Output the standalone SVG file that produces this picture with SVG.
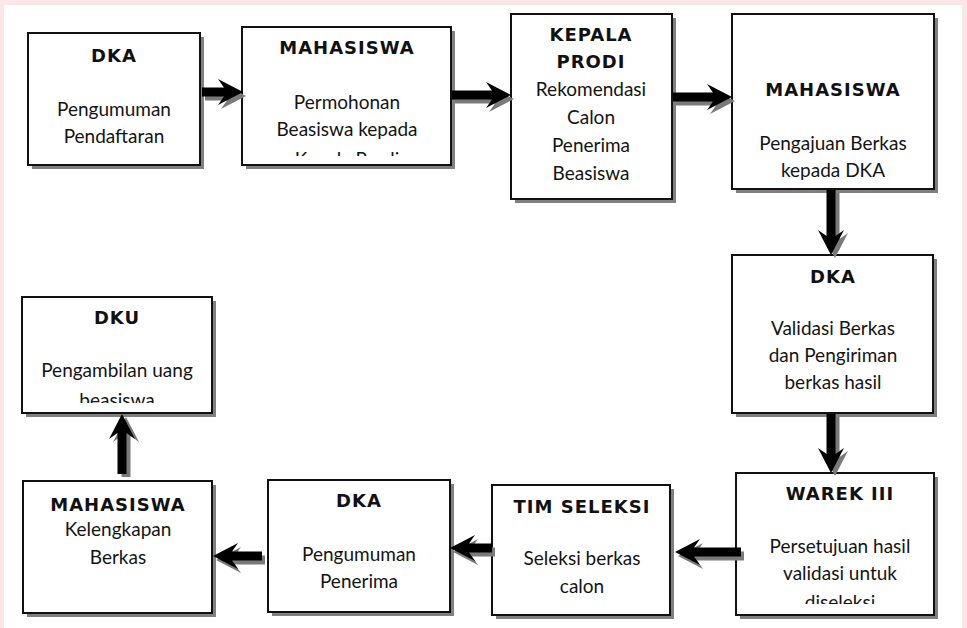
<svg xmlns="http://www.w3.org/2000/svg" width="967" height="628" viewBox="0 0 967 628">
<style>
.sh{fill:#808080}
.bx{fill:#fff;stroke:#111;stroke-width:2}
.hd{font-family:"DejaVu Sans",sans-serif;font-weight:bold;font-size:18px;letter-spacing:1px;fill:#111;text-anchor:middle}
.tx{font-family:Lato,"Liberation Sans",sans-serif;font-size:19px;fill:#141414;text-anchor:middle}
.ar{fill:#000}
.as{fill:#7a7a7a}
</style>
<defs>
<clipPath id="c2"><rect x="242" y="27" width="209" height="129"/></clipPath>
<clipPath id="c6"><rect x="736" y="473" width="198" height="131"/></clipPath>
<clipPath id="c10"><rect x="22" y="297" width="190" height="106"/></clipPath>
</defs>
<rect x="0" y="0" width="967" height="628" fill="#fce6e8"/>
<rect x="4" y="5" width="958" height="623" fill="#fff"/>

<g id="n1">
<rect class="sh" x="32" y="37" width="172" height="132"/>
<rect class="bx" x="28" y="33" width="172" height="132"/>
<text class="hd" x="114" y="62">DKA</text>
<text class="tx" x="114" y="116">Pengumuman</text>
<text class="tx" x="114" y="143">Pendaftaran</text>
</g>
<g id="n2">
<rect class="sh" x="246" y="31" width="209" height="138"/>
<rect class="bx" x="242" y="27" width="209" height="138"/>
<text class="hd" x="347" y="54">MAHASISWA</text>
<g clip-path="url(#c2)">
<text class="tx" x="347" y="109">Permohonan</text>
<text class="tx" x="347" y="136">Beasiswa kepada</text>
<text class="tx" x="347" y="166">Kepala Prodi</text>
</g>
</g>
<g id="n3">
<rect class="sh" x="515" y="18" width="161" height="185"/>
<rect class="bx" x="511" y="14" width="161" height="185"/>
<text class="hd" x="591" y="41">KEPALA</text>
<text class="hd" x="591" y="68">PRODI</text>
<text class="tx" x="591" y="96">Rekomendasi</text>
<text class="tx" x="591" y="124">Calon</text>
<text class="tx" x="591" y="152">Penerima</text>
<text class="tx" x="591" y="180">Beasiswa</text>
</g>
<g id="n4">
<rect class="sh" x="736" y="18" width="202" height="175"/>
<rect class="bx" x="732" y="14" width="202" height="175"/>
<text class="hd" x="833" y="96">MAHASISWA</text>
<text class="tx" x="833" y="150">Pengajuan Berkas</text>
<text class="tx" x="833" y="177">kepada DKA</text>
</g>
<g id="n5">
<rect class="sh" x="736" y="259" width="201" height="158"/>
<rect class="bx" x="732" y="255" width="201" height="158"/>
<text class="hd" x="833" y="283">DKA</text>
<text class="tx" x="833" y="335">Validasi Berkas</text>
<text class="tx" x="833" y="362">dan Pengiriman</text>
<text class="tx" x="833" y="389">berkas hasil</text>
</g>
<g id="n6">
<rect class="sh" x="740" y="477" width="198" height="142"/>
<rect class="bx" x="736" y="473" width="198" height="142"/>
<text class="hd" x="840" y="500">WAREK III</text>
<g clip-path="url(#c6)">
<text class="tx" x="840" y="553">Persetujuan hasil</text>
<text class="tx" x="840" y="580">validasi untuk</text>
<text class="tx" x="840" y="609">diseleksi</text>
</g>
</g>
<g id="n7">
<rect class="sh" x="496" y="489" width="178" height="130"/>
<rect class="bx" x="492" y="485" width="178" height="130"/>
<text class="hd" x="582" y="513">TIM SELEKSI</text>
<text class="tx" x="582" y="565">Seleksi berkas</text>
<text class="tx" x="582" y="593">calon</text>
</g>
<g id="n8">
<rect class="sh" x="272" y="484" width="182" height="132"/>
<rect class="bx" x="268" y="480" width="182" height="132"/>
<text class="hd" x="359" y="507">DKA</text>
<text class="tx" x="359" y="561">Pengumuman</text>
<text class="tx" x="359" y="588">Penerima</text>
</g>
<g id="n9">
<rect class="sh" x="27" y="485" width="189" height="132"/>
<rect class="bx" x="23" y="481" width="189" height="132"/>
<text class="hd" x="118" y="511">MAHASISWA</text>
<text class="tx" x="118" y="536">Kelengkapan</text>
<text class="tx" x="118" y="564">Berkas</text>
</g>
<g id="n10">
<rect class="sh" x="26" y="301" width="190" height="116"/>
<rect class="bx" x="22" y="297" width="190" height="116"/>
<text class="hd" x="117" y="324">DKU</text>
<g clip-path="url(#c10)">
<text class="tx" x="117" y="377">Pengambilan uang</text>
<text class="tx" x="117" y="407">beasiswa</text>
</g>
</g>

<g id="connectors">
<g transform="translate(3,4)"><path class="as" transform="translate(243,92)" d="M0,0 L-25,-13 L-19,-4.5 L-41,-4.5 L-41,4.5 L-19,4.5 L-25,13 Z"/></g>
<path class="ar" transform="translate(243,92)" d="M0,0 L-25,-13 L-19,-4.5 L-41,-4.5 L-41,4.5 L-19,4.5 L-25,13 Z"/>
<g transform="translate(3,4)"><path class="as" transform="translate(511,95)" d="M0,0 L-25,-13 L-19,-4.5 L-59,-4.5 L-59,4.5 L-19,4.5 L-25,13 Z"/></g>
<path class="ar" transform="translate(511,95)" d="M0,0 L-25,-13 L-19,-4.5 L-59,-4.5 L-59,4.5 L-19,4.5 L-25,13 Z"/>
<g transform="translate(3,4)"><path class="as" transform="translate(732,97)" d="M0,0 L-25,-13 L-19,-4.5 L-59,-4.5 L-59,4.5 L-19,4.5 L-25,13 Z"/></g>
<path class="ar" transform="translate(732,97)" d="M0,0 L-25,-13 L-19,-4.5 L-59,-4.5 L-59,4.5 L-19,4.5 L-25,13 Z"/>
<g transform="translate(4,3)"><path class="as" transform="translate(831,255) rotate(90)" d="M0,0 L-25,-13 L-19,-4.5 L-65,-4.5 L-65,4.5 L-19,4.5 L-25,13 Z"/></g>
<path class="ar" transform="translate(831,255) rotate(90)" d="M0,0 L-25,-13 L-19,-4.5 L-65,-4.5 L-65,4.5 L-19,4.5 L-25,13 Z"/>
<g transform="translate(4,3)"><path class="as" transform="translate(831,473) rotate(90)" d="M0,0 L-25,-13 L-19,-4.5 L-59,-4.5 L-59,4.5 L-19,4.5 L-25,13 Z"/></g>
<path class="ar" transform="translate(831,473) rotate(90)" d="M0,0 L-25,-13 L-19,-4.5 L-59,-4.5 L-59,4.5 L-19,4.5 L-25,13 Z"/>
<g transform="translate(3,4)"><path class="as" transform="translate(675,552) rotate(180)" d="M0,0 L-25,-13 L-19,-4.5 L-66,-4.5 L-66,4.5 L-19,4.5 L-25,13 Z"/></g>
<path class="ar" transform="translate(675,552) rotate(180)" d="M0,0 L-25,-13 L-19,-4.5 L-66,-4.5 L-66,4.5 L-19,4.5 L-25,13 Z"/>
<g transform="translate(3,4)"><path class="as" transform="translate(450,548) rotate(180)" d="M0,0 L-25,-13 L-19,-4.5 L-42,-4.5 L-42,4.5 L-19,4.5 L-25,13 Z"/></g>
<path class="ar" transform="translate(450,548) rotate(180)" d="M0,0 L-25,-13 L-19,-4.5 L-42,-4.5 L-42,4.5 L-19,4.5 L-25,13 Z"/>
<g transform="translate(3,4)"><path class="as" transform="translate(213,556) rotate(180)" d="M0,0 L-25,-13 L-19,-4.5 L-49,-4.5 L-49,4.5 L-19,4.5 L-25,13 Z"/></g>
<path class="ar" transform="translate(213,556) rotate(180)" d="M0,0 L-25,-13 L-19,-4.5 L-49,-4.5 L-49,4.5 L-19,4.5 L-25,13 Z"/>
<g transform="translate(4,3)"><path class="as" transform="translate(122,414) rotate(-90)" d="M0,0 L-25,-13 L-19,-4.5 L-60,-4.5 L-60,4.5 L-19,4.5 L-25,13 Z"/></g>
<path class="ar" transform="translate(122,414) rotate(-90)" d="M0,0 L-25,-13 L-19,-4.5 L-60,-4.5 L-60,4.5 L-19,4.5 L-25,13 Z"/>
</g>
</svg>
